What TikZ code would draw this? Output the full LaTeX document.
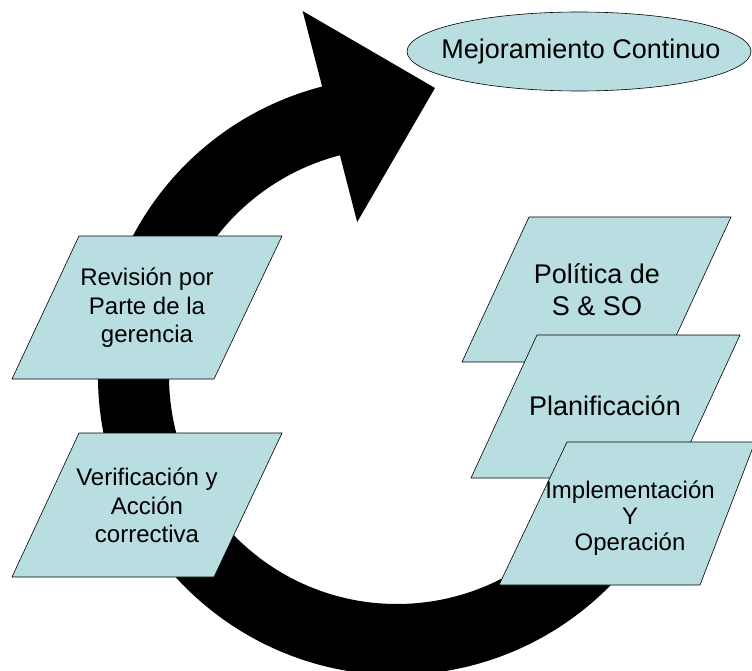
\documentclass[tikz,border=0pt]{standalone}
\usepackage{fontspec}
\setmainfont{Liberation Sans}
\usetikzlibrary{shapes,positioning,calc}
\definecolor{boxblue}{RGB}{184,222,226}

\begin{document}
\begin{tikzpicture}[x=1pt, y=-1pt,
    pbox/.style={draw, fill=boxblue, line width=0.6pt},
    big/.style={font=\fontsize{27}{32}\selectfont, align=center},
    small/.style={font=\fontsize{24}{28.5}\selectfont, align=center}]
    \useasboundingbox (0,0) rectangle (752,671);
    \coordinate (hub) at (397,376);
    \coordinate (tip) at (435,88);

    % big circular arrow
    \fill ($(hub)+(40:228)$) arc[start angle=40, end angle=255.5, radius=228]
        -- ($(hub)+(255.5:159)$) -- (tip) -- ($(hub)+(255.5:377)$)
        -- ($(hub)+(255.5:299)$) arc[start angle=255.5, end angle=40, radius=299] -- cycle;

    % left side
    \filldraw [pbox] (79,236) -- (282,236) -- (214,379) -- (12,379) -- cycle;
    \filldraw [pbox] (79,433) -- (282,433) -- (214,577) -- (12,577) -- cycle;
    \node [small] (revision) at (147,308) {Revisión por\\Parte de la\\gerencia};
    \node [small] (verif) at (147,505.5) {Verificación y\\Acción\\correctiva};

    % right side
    \filldraw [pbox] (529,217) -- (731,217) -- (664,362) -- (462,362) -- cycle;
    \filldraw [pbox] (537,335) -- (740,335) -- (674,478) -- (471,478) -- cycle;
    \filldraw [pbox] (567,442) -- (755,442) -- (700,585) -- (499,585) -- cycle;
    \node [big] (politica) at (597,290) {Política de\\S \& SO};
    \node [big] (planif) at (605,406) {Planificación};
    \node [small, font=\fontsize{24}{26}\selectfont] (implem) at (630,518) {Implementación\\Y\\Operación};

    % top label
    \filldraw [pbox] (579,51.5) ellipse [x radius=172, y radius=39.5];
    \node [big] (mejora) at (581,52) {Mejoramiento Continuo};
\end{tikzpicture}
\end{document}
